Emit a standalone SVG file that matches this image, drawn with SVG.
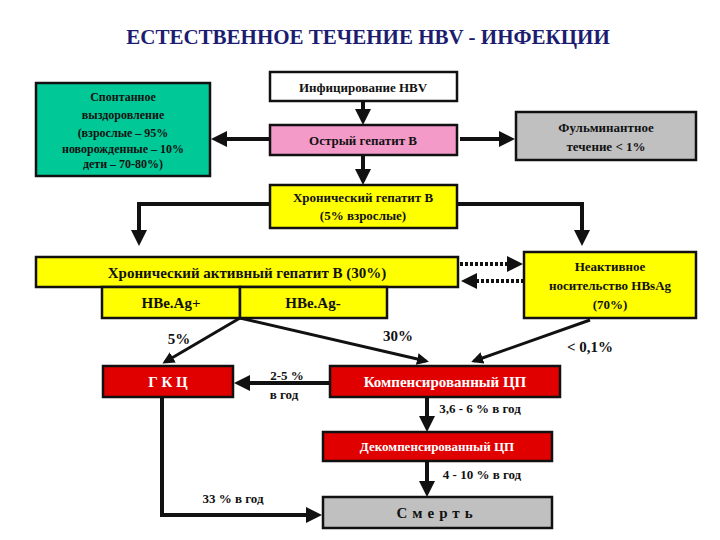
<svg xmlns="http://www.w3.org/2000/svg" width="720" height="540" viewBox="0 0 720 540">
<style>
text{font-family:"Liberation Serif","DejaVu Serif",serif;font-weight:bold;text-anchor:middle;fill:#111}
.b{stroke:#111;stroke-width:2.5}
.l{stroke:#111;stroke-width:4;fill:none}
.d{stroke:#111;stroke-width:4;stroke-dasharray:3 2;fill:none}
.w{fill:#fff}
.t{font-size:13px}
.m{font-size:15px}
</style>
<defs>
<marker id="a" markerWidth="4" markerHeight="4" refX="3" refY="2" orient="auto"><path d="M0,0L4,2L0,4z" fill="#111"/></marker>
</defs>
<rect width="720" height="540" fill="#fff"/>
<text x="368" y="44" style="font-size:21px;fill:#1c1c70">ЕСТЕСТВЕННОЕ ТЕЧЕНИЕ HBV - ИНФЕКЦИИ</text>
<g id="connectors">
<path class="l" d="M363,101V121" marker-end="url(#a)"/>
<path class="l" d="M363,155V181" marker-end="url(#a)"/>
<path class="l" d="M270,139H215" marker-end="url(#a)"/>
<path class="l" d="M460,139H511" marker-end="url(#a)"/>
<path class="l" d="M270,204H139V242" marker-end="url(#a)"/>
<path class="l" d="M457,204H582V242" marker-end="url(#a)"/>
<path class="d" d="M460,264H519" marker-end="url(#a)"/>
<path class="d" d="M524,281H465" marker-end="url(#a)"/>
<path class="l" style="stroke-width:3" d="M240,318L165,362" marker-end="url(#a)"/>
<path class="l" style="stroke-width:3" d="M240,318L426,361" marker-end="url(#a)"/>
<path class="l" style="stroke-width:3" d="M590,320L474,361" marker-end="url(#a)"/>
<path class="l" d="M330,383H238" marker-end="url(#a)"/>
<path class="l" d="M427,397V428" marker-end="url(#a)"/>
<path class="l" d="M427,461V493" marker-end="url(#a)"/>
<path class="l" d="M162,397V515H318" marker-end="url(#a)"/>
</g>
<g id="inf"><rect x="270" y="72" width="187" height="29" class="b w"/><text x="363" y="92" class="t">Инфицирование HBV</text></g>
<g id="acute"><rect x="270" y="125" width="187" height="30" class="b" fill="#f49ac9"/><text x="363" y="145" class="t">Острый гепатит В</text></g>
<g id="spont"><rect x="36" y="83" width="174" height="93" class="b" fill="#00c896"/>
<text x="123" y="101" style="font-size:12px">Спонтанное</text><text x="123" y="119" style="font-size:12px">выздоровление</text><text x="123" y="137" style="font-size:12px">(взрослые – 95%</text><text x="123" y="153" style="font-size:12px">новорожденные – 10%</text><text x="123" y="168" style="font-size:12px">дети – 70-80%)</text></g>
<g id="fulm"><rect x="516" y="112" width="180" height="48" class="b" fill="#c0c0c0"/><text x="606" y="132" class="t">Фульминантное</text><text x="606" y="151" class="t">течение &lt; 1%</text></g>
<g id="chron"><rect x="270" y="185" width="187" height="43" class="b" fill="#ffff00"/><text x="363" y="202" class="t">Хронический гепатит В</text><text x="363" y="220" class="t">(5% взрослые)</text></g>
<g id="cah"><rect x="36" y="257" width="422" height="30" class="b" fill="#ffff00"/><text x="247" y="278" class="m">Хронический активный гепатит В (30%)</text></g>
<g id="hbeplus"><rect x="102" y="287" width="138" height="31" class="b" fill="#ffff00"/><text x="171" y="308" class="m">HBe.Ag+</text></g>
<g id="hbeminus"><rect x="240" y="287" width="147" height="31" class="b" fill="#ffff00"/><text x="313" y="308" class="m">HBe.Ag-</text></g>
<g id="inact"><rect x="524" y="252" width="172" height="66" class="b" fill="#ffff00"/><text x="610" y="271" class="t">Неактивное</text><text x="610" y="290" class="t">носительство HBsAg</text><text x="610" y="309" class="t">(70%)</text></g>
<text x="179" y="344" class="m">5%</text><text x="398" y="341" class="m">30%</text><text x="590" y="352" class="m">&lt; 0,1%</text>
<g id="gkc"><rect x="103" y="366" width="130" height="31" class="b" fill="#e00000"/><text x="168" y="387" class="m" style="fill:#fff">Г К Ц</text></g>
<g id="comp"><rect x="330" y="366" width="230" height="31" class="b" fill="#e00000"/><text x="445" y="387" class="m" style="fill:#fff">Компенсированный ЦП</text></g>
<text x="287" y="380" class="t">2-5 %</text><text x="284" y="399" class="t">в год</text>
<text x="480" y="413" class="t">3,6 - 6 % в год</text>
<g id="decomp"><rect x="323" y="432" width="229" height="29" class="b" fill="#e00000"/><text x="437" y="451" class="t" style="fill:#fff">Декомпенсированный ЦП</text></g>
<text x="482" y="479" class="t">4 - 10 % в год</text>
<text x="233" y="503" class="t">33 % в год</text>
<g id="death"><rect x="323" y="497" width="229" height="31" class="b" fill="#c0c0c0"/><text x="437" y="518" class="m" style="letter-spacing:5px">Смерть</text></g>
</svg>
